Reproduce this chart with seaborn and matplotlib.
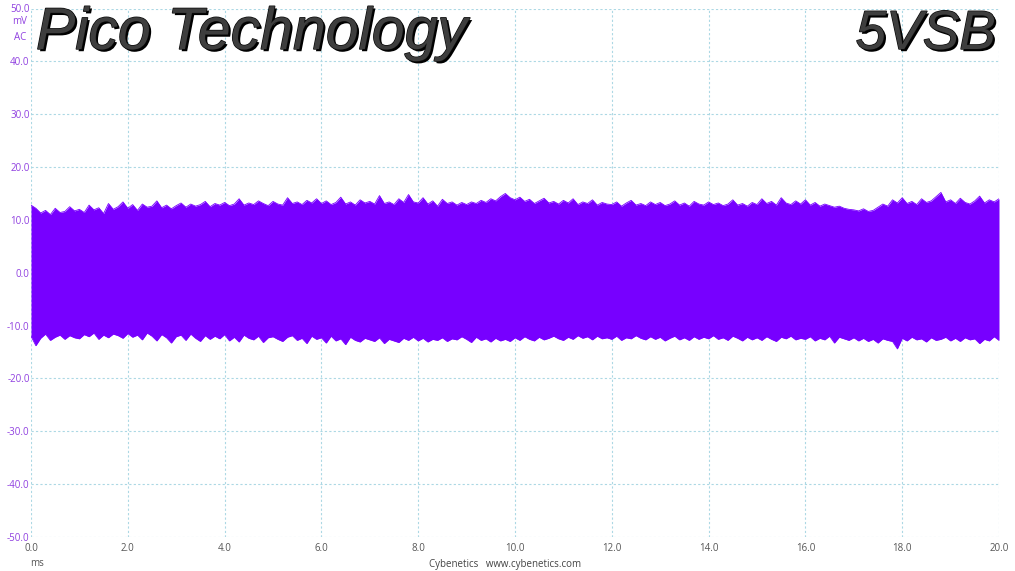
import numpy as np
import pandas as pd
import matplotlib
matplotlib.use("Agg")
import matplotlib.pyplot as plt
import matplotlib.patheffects as pe
import seaborn as sns

# ---- data (noise envelope, mV, every 0.1 ms) ----
time_ms = [round(i * 0.1, 1) for i in range(201)]
upper_mv = [
    12.8, 12.2, 11.3, 11.8, 11.0, 12.2, 11.4, 11.6, 12.5, 11.7,
    12.0, 11.4, 12.8, 11.9, 12.3, 11.2, 13.1, 12.0, 12.5, 13.4,
    12.2, 12.9, 11.8, 13.0, 12.4, 12.6, 13.6, 12.3, 12.8, 12.1,
    12.7, 13.2, 12.4, 13.0, 12.6, 12.9, 13.5, 12.5, 13.1, 12.8,
    13.3, 12.7, 13.0, 14.0, 12.8, 13.2, 12.9, 13.6, 13.1, 12.7,
    13.5, 13.0, 12.8, 14.2, 13.1, 13.4, 12.9, 13.7, 13.2, 14.0,
    13.1, 13.6, 12.9, 13.3, 14.3, 13.0, 13.4, 12.8, 13.8, 13.2,
    13.5, 13.0, 14.6, 13.1, 13.4, 12.9, 14.0, 13.3, 14.8, 13.4,
    13.2, 14.2, 13.0, 13.6, 12.6, 13.9, 13.1, 13.4, 12.8, 13.3,
    12.9, 13.4, 13.1, 13.7, 13.3, 14.0, 13.6, 14.4, 15.0, 14.2,
    13.8, 14.3, 13.5, 13.9, 13.1, 13.6, 14.1, 13.2, 13.5, 13.0,
    13.7, 13.2, 14.0, 12.9, 13.4, 13.1, 13.8, 12.8, 13.3, 13.0,
    12.9, 13.4, 12.6, 13.2, 13.7, 12.8, 13.1, 12.7, 13.4, 12.9,
    13.3, 12.7, 13.0, 13.6, 12.8, 13.2, 12.6, 13.5, 13.0, 12.8,
    13.4, 12.9, 13.2, 12.7, 13.0, 13.8, 12.8, 13.1, 12.6, 13.3,
    12.9, 14.0, 13.1, 13.5, 12.8, 14.2, 13.2, 12.9, 13.6, 13.0,
    13.8, 12.8, 13.3, 12.6, 13.0, 12.7, 12.4, 12.6, 12.2, 12.0,
    11.9, 11.7, 12.1, 11.6, 11.8, 12.4, 13.0, 12.6, 13.8, 13.2,
    14.2, 13.1, 13.5, 12.9, 14.0, 13.3, 13.6, 14.4, 15.2, 13.4,
    13.8, 13.1, 14.1, 13.3, 13.0, 13.6, 14.5, 13.2, 13.8, 13.4, 14.0,
]
lower_mv = [
    -12.0, -13.8, -12.4, -11.6, -12.8, -12.2, -11.8, -12.6, -11.9, -12.3,
    -12.5, -11.7, -12.1, -11.4, -12.6, -11.8, -12.3, -11.6, -11.9, -12.4,
    -11.5, -12.2, -11.8, -12.7, -11.4, -12.0, -12.9, -11.7, -12.3, -13.3,
    -12.1, -11.8, -12.8, -11.6, -12.4, -13.0, -11.9, -12.6, -12.0, -12.5,
    -11.7, -12.9, -12.2, -13.1, -11.8, -12.4, -12.7, -12.0, -13.2, -12.3,
    -12.1, -12.6, -13.0, -12.2, -11.9, -12.8, -12.4, -13.4, -12.0, -12.6,
    -12.3, -13.3, -12.0, -12.9, -12.5, -13.6, -12.2, -12.8, -13.1, -12.4,
    -12.7, -13.0, -12.3, -13.4, -12.6, -12.9, -13.2, -12.4, -12.8, -12.2,
    -12.9, -12.4, -13.1, -12.6, -12.8, -12.3, -13.0, -12.5, -12.7, -12.1,
    -12.6, -13.2, -12.2, -12.8, -12.5, -13.1, -12.4, -12.9, -12.6, -13.0,
    -12.3, -12.8, -12.1, -12.6, -12.9, -12.2, -12.7, -12.4, -12.0, -12.5,
    -12.8, -12.2, -12.6, -11.9, -12.4, -12.1, -12.7, -12.0, -12.5, -12.3,
    -12.6, -12.0, -12.8, -12.3, -12.5, -11.9, -12.4, -12.7, -12.1, -12.6,
    -12.2, -12.9, -12.4, -12.0, -12.7, -12.3, -12.8, -12.1, -12.6, -12.2,
    -12.5, -11.9, -12.6, -12.3, -12.8, -12.0, -12.4, -12.9, -12.2, -12.7,
    -12.3, -12.8, -12.1, -12.6, -13.0, -12.2, -12.5, -12.0, -12.7, -12.4,
    -12.6, -12.1, -12.9, -12.4, -12.7, -12.0, -13.3, -12.2, -12.5, -12.8,
    -12.3, -12.9, -12.4, -13.0, -12.6, -13.3, -12.5, -12.8, -13.0, -14.4,
    -12.4, -12.9, -12.2, -12.7, -12.5, -13.1, -12.3, -12.8, -12.6, -12.2,
    -12.9, -12.4, -13.0, -12.3, -12.7, -12.5, -13.4, -12.6, -12.9, -12.1, -12.8,
]
x_ticks = [0, 2, 4, 6, 8, 10, 12, 14, 16, 18, 20]
y_ticks = [-50, -40, -30, -20, -10, 0, 10, 20, 30, 40, 50]
brand_left = "Pico Technology"
brand_right = "5VSB"
x_unit = "ms"
y_unit = ["mV", "AC"]
footer = "Cybenetics   www.cybenetics.com"

df = pd.DataFrame({"t": time_ms, "hi": upper_mv, "lo": lower_mv})

sns.set_style("white")
plt.rcParams["font.family"] = ["Open Sans", "DejaVu Sans"]

W, H = 1015, 571
fig = plt.figure(figsize=(W / 100, H / 100), dpi=100)
ax = fig.add_axes([31 / W, (H - 537) / H, (999 - 31) / W, (537 - 8.5) / H])

trace = "#7700ff"
ax.fill_between(df["t"], df["lo"], df["hi"], color=trace, linewidth=0)
sns.lineplot(data=df, x="t", y="hi", ax=ax, color=trace, linewidth=0.6)
sns.lineplot(data=df, x="t", y="lo", ax=ax, color=trace, linewidth=0.6)

ax.set_xlim(0, 20)
ax.set_ylim(-50, 50)
ax.set_xticks(x_ticks)
ax.set_yticks(y_ticks)
ax.set_xticklabels([f"{v:.1f}" for v in x_ticks])
ax.set_yticklabels([f"{v:.1f}" for v in y_ticks])
ax.set_xlabel("")
ax.set_ylabel("")
for s in ax.spines.values():
    s.set_visible(False)
ax.grid(True, color="#acd8e4", linestyle=(0, (2, 2)), linewidth=0.8)
ax.set_axisbelow(True)
ax.tick_params(axis="both", length=0, labelsize=7)
ax.tick_params(axis="y", colors="#9040e0", pad=1)
ax.tick_params(axis="x", colors="#555555", pad=4)

# unit labels
fig.text(20 / W, 1 - 22 / H, y_unit[0], ha="center", va="center", fontsize=7, color="#9040e0")
fig.text(20 / W, 1 - 37 / H, y_unit[1], ha="center", va="center", fontsize=7, color="#9040e0")
fig.text(37 / W, 1 - 564 / H, x_unit, ha="center", va="center", fontsize=7, color="#555555")
fig.text(505 / W, 1 - 564 / H, footer, ha="center", va="center", fontsize=7, color="#444444")

effects = [pe.SimplePatchShadow(offset=(1.6, -1.6), shadow_rgbFace="black", alpha=1.0),
           pe.Stroke(linewidth=1.0, foreground="#0a0a0a"),
           pe.Normal()]
for txt, xpos, ha, fs in [(brand_left, 36, "left", 42.5), (brand_right, 996, "right", 39.5)]:
    fig.text(xpos / W, 1 - 49 / H, txt, ha=ha, va="baseline", fontsize=fs,
             family="Liberation Sans", weight="normal", style="italic", color="#3e3e3e",
             path_effects=effects)

fig.savefig("out.png", dpi=100, facecolor="white")
